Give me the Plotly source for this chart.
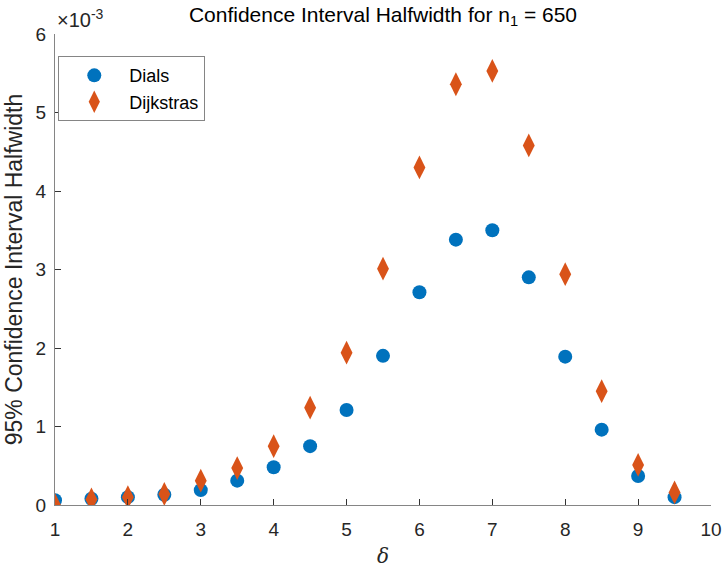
import numpy as np
import plotly.graph_objects as go

# delta values
delta = [1, 1.5, 2, 2.5, 3, 3.5, 4, 4.5, 5, 5.5, 6, 6.5, 7, 7.5, 8, 8.5, 9, 9.5]

# 95% CI halfwidths, in units of 1e-3
dials_e3 = [0.06, 0.08, 0.10, 0.13, 0.19, 0.31, 0.48, 0.75, 1.21, 1.90,
            2.71, 3.38, 3.50, 2.90, 1.89, 0.96, 0.37, 0.10]
dijkstras_e3 = [0.00, 0.07, 0.10, 0.14, 0.31, 0.47, 0.75, 1.24, 1.94, 3.01,
                4.30, 5.36, 5.53, 4.58, 2.94, 1.45, 0.51, 0.16]

x_ticks = [1, 2, 3, 4, 5, 6, 7, 8, 9, 10]
y_ticks_e3 = [0, 1, 2, 3, 4, 5, 6]

scale = 1e-3
dials = np.array(dials_e3) * scale
dijkstras = np.array(dijkstras_e3) * scale

FONT = "Liberation Sans, Arial, sans-serif"
AX = "#858585"
TXT = "#262626"

fig = go.Figure()
fig.add_trace(go.Scatter(
    x=delta, y=dials, mode="markers", name="Dials",
    marker=dict(symbol="circle", size=14, color="#0072BD"),
))
fig.add_trace(go.Scatter(
    x=delta, y=dijkstras, mode="markers", name="Dijkstras",
    marker=dict(symbol="diamond-tall", size=17, color="#D95319"),
))

fig.update_layout(
    width=724, height=571,
    margin=dict(l=55, r=13, t=34, b=66, autoexpand=False),
    paper_bgcolor="white", plot_bgcolor="white",
    font=dict(family=FONT, size=19, color=TXT),
    title=dict(
        text="Confidence Interval Halfwidth for n<sub>1</sub> = 650",
        x=0.529, xanchor="center", y=0.988, yanchor="top",
        font=dict(family=FONT, size=21, color="black"),
    ),
    showlegend=True,
    legend=dict(
        x=0.005, y=0.953, xanchor="left", yanchor="top",
        bordercolor=AX, borderwidth=1, bgcolor="white",
        font=dict(family=FONT, size=18, color="black"),
        itemwidth=60, tracegroupgap=0,
    ),
    xaxis=dict(
        range=[1, 10], tickvals=x_ticks, ticktext=[str(v) for v in x_ticks],
        showgrid=False, zeroline=False, showline=True, linecolor=AX, linewidth=1.2,
        ticks="inside", ticklen=6, tickcolor="#333", tickwidth=1,
        ticklabelstandoff=7,
        tickfont=dict(family=FONT, size=19, color=TXT),
        title=dict(text="<i>δ</i>", font=dict(family="DejaVu Serif, serif", size=20, color=TXT),
                   standoff=10),
    ),
    yaxis=dict(
        range=[0, 6 * scale],
        tickvals=[v * scale for v in y_ticks_e3], ticktext=[str(v) for v in y_ticks_e3],
        showgrid=False, zeroline=False, showline=True, linecolor=AX, linewidth=1.2,
        ticks="inside", ticklen=6, tickcolor="#333", tickwidth=1,
        ticklabelstandoff=4,
        tickfont=dict(family=FONT, size=19, color=TXT),
        title=dict(text="95% Confidence Interval Halfwidth",
                   font=dict(family=FONT, size=23, color=TXT), standoff=6),
    ),
)

# exponent marker for the y axis
fig.add_annotation(
    xref="paper", yref="paper", x=0.0, y=1.0, xanchor="left", yanchor="bottom",
    yshift=1, text="×10<sup>-3</sup>", showarrow=False,
    font=dict(family=FONT, size=20, color=TXT),
)

fig.write_html("out.html")
